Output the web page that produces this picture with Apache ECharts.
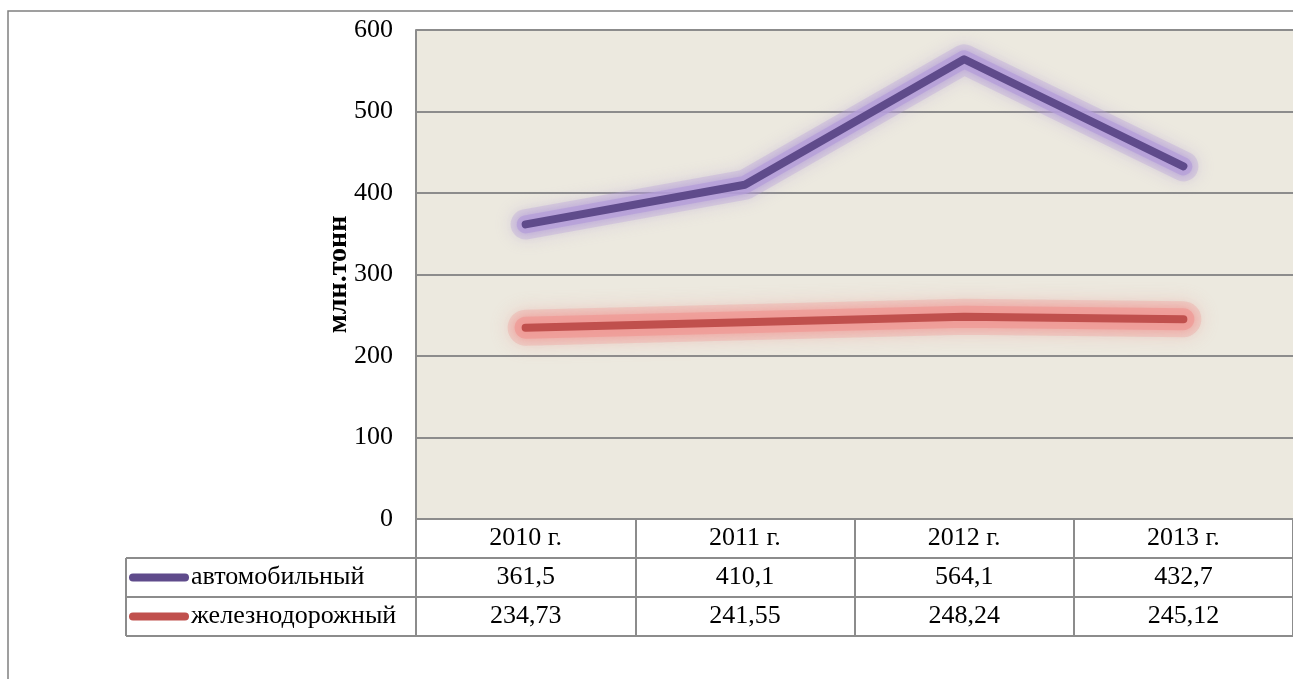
<!DOCTYPE html>
<html>
<head>
<meta charset="utf-8">
<script src="https://cdn.jsdelivr.net/npm/echarts@6/dist/echarts.min.js"></script>
<style>
html,body{margin:0;padding:0;background:#fff;}
#chart{width:1293px;height:679px;}
</style>
</head>
<body>
<div id="chart"></div>
<script>
// ---- data ----
const categories = ['2010 г.', '2011 г.', '2012 г.', '2013 г.'];
const seriesNames = ['автомобильный', 'железнодорожный'];
const autoValues = [361.5, 410.1, 564.1, 432.7];
const railValues = [234.73, 241.55, 248.24, 245.12];
const yTicks = [0, 100, 200, 300, 400, 500, 600];
const yAxisTitle = 'млн.тонн';

// ---- styling ----
const FONT = '"Liberation Serif", "Times New Roman", serif';
const GRID_COLOR = '#8c8c8c';
const PURPLE = '#5f4b8b';
const RED = '#c0504d';
const LABEL_SIZE = 26;
const fmt = v => String(v).replace('.', ',');

const chart = echarts.init(document.getElementById('chart'), null, {renderer: 'canvas'});

const tableLines = [558, 597, 636].map(y => ({
  type: 'line', silent: true,
  shape: {x1: 126, y1: y, x2: 1310, y2: y},
  style: {stroke: GRID_COLOR, lineWidth: 2}
}));

const legendIcon = 'path://M4,0 L56,0 A4,4 0 0 1 56,8 L4,8 A4,4 0 0 1 4,0 Z';

function glowSeries(data, rgb, width, alpha, blur) {
  return {
    name: '_glow', type: 'line', data: data,
    symbol: 'none', smooth: false, z: 1, silent: true,
    legendHoverLink: false,
    lineStyle: {
      color: 'rgba(' + rgb + ',' + alpha + ')', width: width, cap: 'round', join: 'round',
      shadowBlur: blur, shadowColor: 'rgba(' + rgb + ',1)'
    }
  };
}

const PURPLE_GLOW = '180,156,216';
const RED_GLOW = '240,152,148';

chart.setOption({
  animation: false,
  backgroundColor: '#ffffff',
  textStyle: {fontFamily: FONT},
  grid: {
    left: 416, top: 30, width: 887, height: 489,
    show: true, backgroundColor: '#ece9df', borderWidth: 0
  },
  legend: {
    orient: 'vertical',
    left: 129, top: 558,
    padding: 0,
    itemGap: 0,
    itemWidth: 60, itemHeight: 8,
    icon: legendIcon,
    data: seriesNames,
    textStyle: {fontFamily: FONT, fontSize: LABEL_SIZE, color: '#000', lineHeight: 39, padding: [0, 0, 0, -3]},
    itemStyle: {shadowBlur: 0, shadowColor: 'transparent'},
    lineStyle: {shadowBlur: 0, shadowColor: 'transparent'}
  },
  xAxis: {
    type: 'category',
    data: categories,
    boundaryGap: true,
    axisLine: {show: true, lineStyle: {color: GRID_COLOR, width: 2}},
    axisTick: {show: true, interval: 0, length: 117, inside: false, lineStyle: {color: GRID_COLOR, width: 2}},
    splitLine: {show: false},
    axisLabel: {
      interval: 0,
      margin: 0,
      fontFamily: FONT,
      fontSize: LABEL_SIZE,
      color: '#000',
      lineHeight: 39,
      verticalAlign: 'top',
      formatter: (value, idx) => value + '\n' + fmt(autoValues[idx]) + '\n' + fmt(railValues[idx])
    }
  },
  yAxis: {
    type: 'value',
    min: yTicks[0], max: yTicks[yTicks.length - 1], interval: 100,
    name: yAxisTitle,
    nameLocation: 'middle',
    nameGap: 63,
    nameMoveOverlap: false,
    nameTextStyle: {fontFamily: FONT, fontSize: 28, fontWeight: 'bold', color: '#000'},
    axisLine: {show: true, lineStyle: {color: GRID_COLOR, width: 2}},
    axisTick: {show: false},
    splitLine: {show: true, lineStyle: {color: GRID_COLOR, width: 2}},
    axisLabel: {fontFamily: FONT, fontSize: LABEL_SIZE, color: '#000', margin: 23}
  },
  series: [
    glowSeries(autoValues, PURPLE_GLOW, 30, 0.3, 16),
    glowSeries(autoValues, PURPLE_GLOW, 18, 0.7, 8),
    glowSeries(railValues, RED_GLOW, 36, 0.3, 18),
    glowSeries(railValues, RED_GLOW, 22, 0.7, 10),
    {
      name: seriesNames[0], type: 'line', data: autoValues,
      symbol: 'none', smooth: false, z: 3,
      color: PURPLE,
      lineStyle: {color: PURPLE, width: 8, cap: 'round', join: 'round'}
    },
    {
      name: seriesNames[1], type: 'line', data: railValues,
      symbol: 'none', smooth: false, z: 3,
      color: RED,
      lineStyle: {color: RED, width: 8, cap: 'round', join: 'round'}
    }
  ],
  graphic: [
    {
      type: 'rect', silent: true, z: -1,
      shape: {x: 8, y: 11, width: 1400, height: 800},
      style: {fill: 'none', stroke: '#808080', lineWidth: 1.5}
    },
    {
      type: 'line', silent: true,
      shape: {x1: 126, y1: 558, x2: 126, y2: 636},
      style: {stroke: GRID_COLOR, lineWidth: 2}
    }
  ].concat(tableLines)
});
</script>
</body>
</html>
